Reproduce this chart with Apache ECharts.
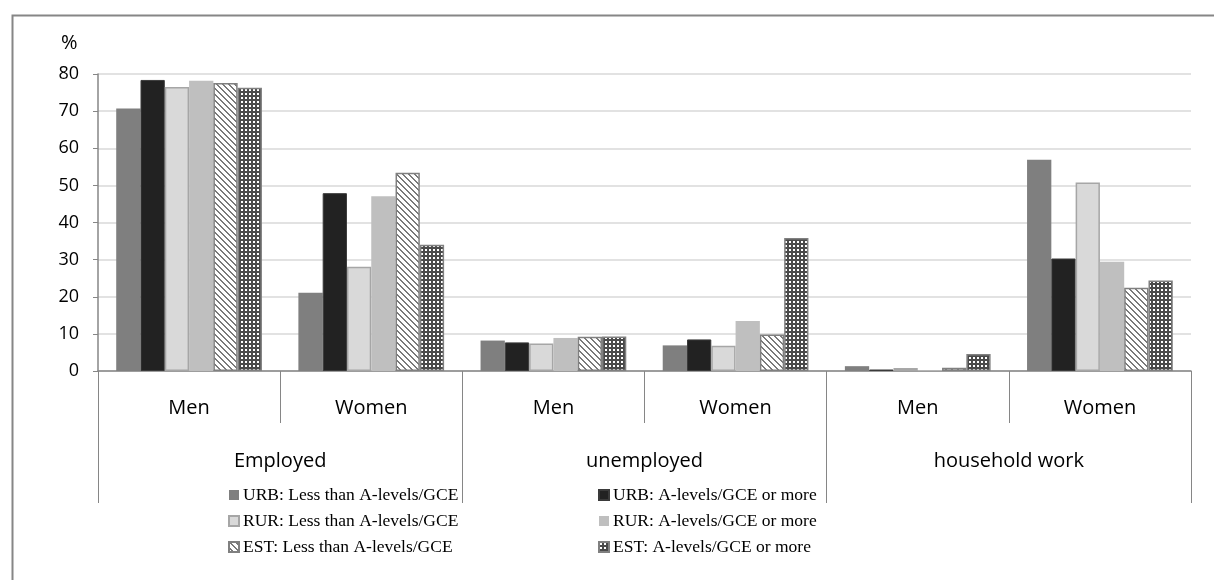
<!DOCTYPE html>
<html>
<head>
<meta charset="utf-8">
<script src="https://cdn.jsdelivr.net/npm/echarts@6/dist/echarts.min.js"></script>
<style>
  html, body { margin: 0; padding: 0; background: #fff; }
  #chart { width: 1214px; height: 580px; }
</style>
</head>
<body>
<div id="chart"></div>
<script>
// Activity status by sex, area and education level (%)
const subCategories = ['Men', 'Women', 'Men', 'Women', 'Men', 'Women'];
const groupCategories = ['Employed', 'unemployed', 'household work'];
const yTicks = { min: 0, max: 80, step: 10 };

const seriesNames = [
  'URB: Less than A-levels/GCE',
  'URB: A-levels/GCE or more',
  'RUR: Less than A-levels/GCE',
  'RUR: A-levels/GCE or more',
  'EST: Less than A-levels/GCE',
  'EST: A-levels/GCE or more'
];
const urbLess = [70.7, 21.1, 8.2, 6.9, 1.3, 56.9];
const urbMore = [78.4, 47.9, 7.7, 8.5, 0.4, 30.3];
const rurLess = [76.5, 28.1, 7.4, 6.8, 0.8, 50.8];
const rurMore = [78.2, 47.1, 8.9, 13.5, 0.2, 29.4];
const estLess = [77.6, 53.4, 9.2, 9.8, 0.9, 22.4];
const estMore = [76.3, 34.0, 9.3, 35.8, 4.6, 24.4];

// Fill patterns for the two EST series
function hatchPattern() {
  const c = document.createElement('canvas');
  c.width = 6; c.height = 6;
  const g = c.getContext('2d');
  g.fillStyle = '#ffffff';
  g.fillRect(0, 0, 6, 6);
  g.fillStyle = '#7a7a7a';
  for (let i = 0; i < 6; i++) {
    g.fillRect(i, i, 1, 1);
    g.fillRect((i + 1) % 6, i, 1, 1);
  }
  return { image: c, repeat: 'repeat' };
}
function dotPattern() {
  const c = document.createElement('canvas');
  c.width = 4; c.height = 4;
  const g = c.getContext('2d');
  g.fillStyle = '#4a4a4a';
  g.fillRect(0, 0, 4, 4);
  g.fillStyle = '#ffffff';
  g.fillRect(1, 1, 2, 2);
  return { image: c, repeat: 'repeat' };
}

const styles = [
  { color: '#7f7f7f', borderColor: '#7f7f7f', borderWidth: 0 },
  { color: '#222222', borderColor: '#3a3a3a', borderWidth: 1 },
  { color: '#d9d9d9', borderColor: '#a6a6a6', borderWidth: 1.5 },
  { color: '#bfbfbf', borderColor: '#bfbfbf', borderWidth: 0 },
  { color: hatchPattern(), borderColor: '#808080', borderWidth: 1.5 },
  { color: dotPattern(), borderColor: '#808080', borderWidth: 1.5 }
];
const values = [urbLess, urbMore, rurLess, rurMore, estLess, estMore];

const sansFont = '"Open Sans", "Noto Sans", sans-serif';
const serifFont = '"Liberation Serif", "DejaVu Serif", serif';

const chart = echarts.init(document.getElementById('chart'), null, { renderer: 'canvas' });

const legendCommon = {
  orient: 'vertical',
  icon: 'rect',
  itemWidth: 10,
  itemHeight: 10,
  itemGap: 8,
  top: 486,
  textStyle: { fontFamily: serifFont, fontSize: 17.5, color: '#000', padding: [0, 0, 0, -1] },
  padding: 0
};

chart.setOption({
  animation: false,
  backgroundColor: '#ffffff',
  graphic: [
    {
      type: 'rect', left: 10, top: 13, z: 0,
      shape: { width: 1260, height: 640 },
      style: { fill: 'none', stroke: '#868686', lineWidth: 2 }
    },
    {
      type: 'text', left: 61, top: 33,
      style: { text: '%', font: '20px ' + sansFont, fill: '#000' }
    }
  ],
  legend: [
    Object.assign({ left: 228, data: [seriesNames[0], seriesNames[2], seriesNames[4]] }, legendCommon),
    Object.assign({ left: 598, data: [seriesNames[1], seriesNames[3], seriesNames[5]] }, legendCommon)
  ],
  grid: { left: 98, right: 23, top: 74, bottom: 209 },
  xAxis: [
    {
      type: 'category',
      data: subCategories,
      position: 'bottom',
      axisLine: { show: true, lineStyle: { color: '#868686', width: 1.5 } },
      axisTick: { show: true, length: 52, lineStyle: { color: '#868686', width: 1 } },
      axisLabel: { margin: 27, fontFamily: sansFont, fontSize: 20, color: '#000' }
    },
    {
      type: 'category',
      data: groupCategories,
      position: 'bottom',
      offset: 0,
      axisLine: { show: false },
      axisTick: { show: true, length: 132, lineStyle: { color: '#868686', width: 1 } },
      axisLabel: { margin: 80, fontFamily: sansFont, fontSize: 20, color: '#000' }
    }
  ],
  yAxis: {
    type: 'value',
    min: yTicks.min,
    max: yTicks.max,
    interval: yTicks.step,
    axisLine: { show: true, lineStyle: { color: '#868686', width: 1.5 } },
    axisTick: { show: true, length: 5, lineStyle: { color: '#868686' } },
    axisLabel: { margin: 19, fontFamily: sansFont, fontSize: 18, color: '#000' },
    splitLine: { lineStyle: { color: '#d9d9d9', width: 1.5 } }
  },
  series: seriesNames.map((name, i) => ({
    name,
    type: 'bar',
    xAxisIndex: 0,
    data: values[i],
    barGap: '0%',
    barCategoryGap: '20%',
    itemStyle: styles[i]
  }))
});
</script>
</body>
</html>
